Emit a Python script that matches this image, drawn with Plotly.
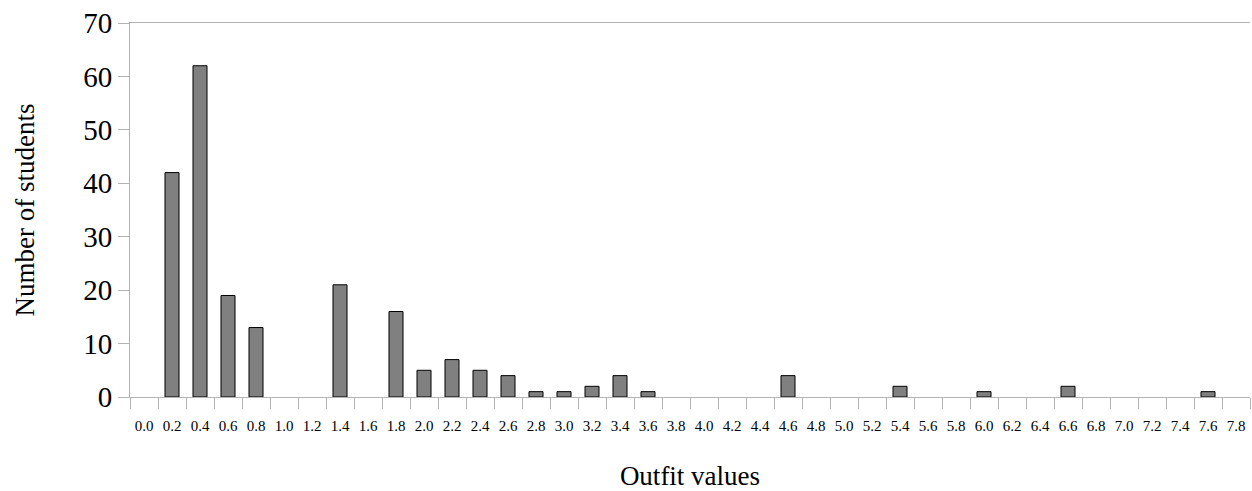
import plotly.graph_objects as go

categories = [f"{i*0.2:.1f}" for i in range(40)]
counts = {"0.2": 42, "0.4": 62, "0.6": 19, "0.8": 13, "1.4": 21, "1.8": 16,
          "2.0": 5, "2.2": 7, "2.4": 5, "2.6": 4, "2.8": 1, "3.0": 1, "3.2": 2,
          "3.4": 4, "3.6": 1, "4.6": 4, "5.4": 2, "6.0": 1, "6.6": 2, "7.6": 1}
values = [counts.get(c) for c in categories]

font = "Liberation Serif, Times New Roman, serif"

fig = go.Figure(go.Bar(
    x=categories, y=values,
    marker=dict(color="#808080", line=dict(color="#000000", width=1)),
    width=0.5,
))

fig.update_layout(
    width=1252, height=491,
    margin=dict(l=130, r=2, t=23, b=94),
    plot_bgcolor="white", paper_bgcolor="white",
    showlegend=False,
    font=dict(family=font, color="black"),
)
fig.update_xaxes(
    type="category", tickson="boundaries",
    categoryorder="array", categoryarray=categories,
    ticks="outside", ticklen=11, tickcolor="#b3b3b3",
    showline=True, linecolor="#b3b3b3", mirror=True,
    showgrid=False, automargin=False, tickangle=0,
    ticklabelstandoff=15,
    tickfont=dict(size=15, family=font),
    title=dict(text="Outfit values", font=dict(size=27, family=font), standoff=36),
    range=[-0.5, 39.5],
)
fig.update_yaxes(
    range=[0, 70], dtick=10,
    ticks="outside", ticklen=11, tickcolor="#b3b3b3",
    showline=True, linecolor="#b3b3b3",
    showgrid=False, zeroline=False, automargin=False,
    tickfont=dict(size=29, family=font),
    title=dict(text="Number of students", font=dict(size=27, family=font), standoff=40),
)

fig.write_html(
    "out.html",
    config={"displayModeBar": False},
    post_script="document.body.style.margin='0';document.body.style.overflow='hidden';",
)
